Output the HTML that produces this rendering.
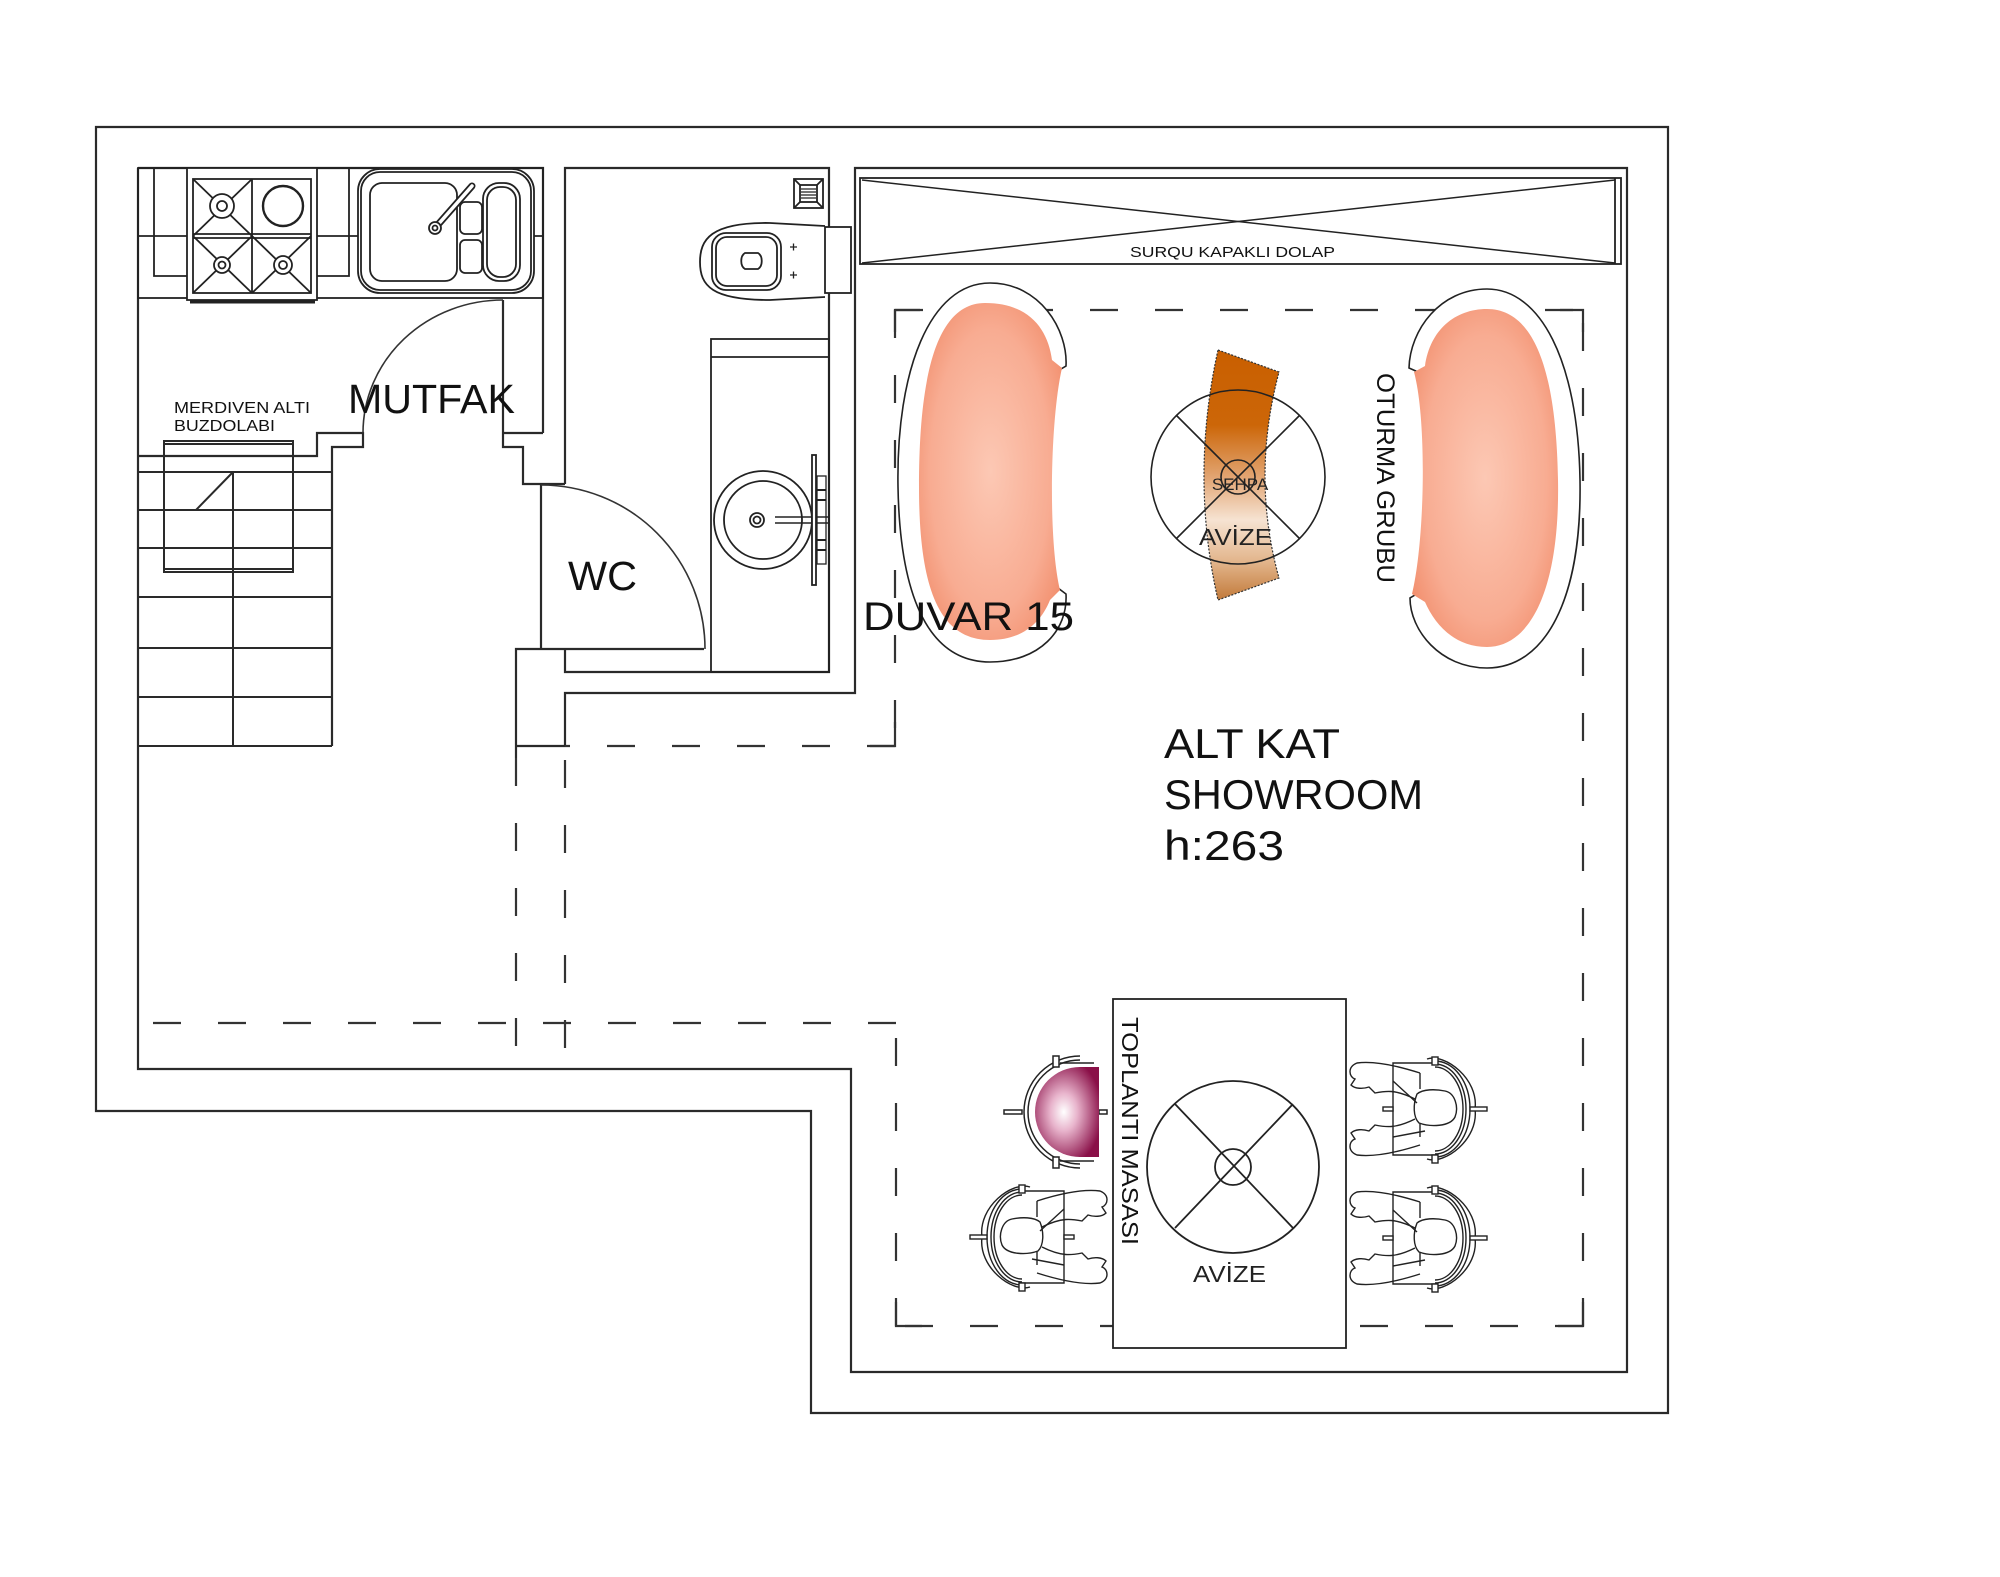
<!DOCTYPE html>
<html>
<head>
<meta charset="utf-8">
<style>
html,body{margin:0;padding:0;background:#fff;}
svg{display:block;}
</style>
</head>
<body>
<svg width="2000" height="1577" viewBox="0 0 2000 1577" xmlns="http://www.w3.org/2000/svg" font-family="'Liberation Sans', Arial, sans-serif">
<defs>
  <radialGradient id="pink" cx="50%" cy="50%" r="60%">
    <stop offset="0%" stop-color="#fcc8b4"/>
    <stop offset="70%" stop-color="#f8ac92"/>
    <stop offset="100%" stop-color="#f2906f"/>
  </radialGradient>
  <linearGradient id="sehpa" x1="0" y1="0" x2="0" y2="1">
    <stop offset="0%" stop-color="#c95f00"/>
    <stop offset="30%" stop-color="#cc6608"/>
    <stop offset="52%" stop-color="#e3a878"/>
    <stop offset="68%" stop-color="#f6e3d2"/>
    <stop offset="85%" stop-color="#e2b48a"/>
    <stop offset="100%" stop-color="#c27a3a"/>
  </linearGradient>
  <radialGradient id="purple" cx="0.45" cy="0.5" r="0.6">
    <stop offset="0%" stop-color="#ffffff"/>
    <stop offset="35%" stop-color="#e8b4cc"/>
    <stop offset="100%" stop-color="#8a1048"/>
  </radialGradient>
  <g id="person">
    <path d="M0,-48 A35,48 0 0 1 0,48" fill="none"/>
    <path d="M0,-45 A31,45 0 0 1 0,45" fill="none"/>
    <path d="M0,-42 A28,42 0 0 1 0,42" fill="none"/>
    <path d="M-8,-50 C10,-56 44,-30 40,0 C44,30 10,56 -8,50" fill="none"/>
    <path d="M0,-46 L-42,-46 L-42,46 L0,46" fill="none"/>
    <rect x="35" y="-2" width="17" height="4" fill="#fff"/>
    <rect x="-3" y="-52" width="6" height="8" fill="#fff"/>
    <rect x="-3" y="46" width="6" height="8" fill="#fff"/>
    <rect x="-52" y="-2" width="10" height="4" fill="#fff"/>
    <path d="M-18,-15 C-22,-5 -22,8 -16,14 C-5,18 15,18 20,8 C24,-2 20,-16 10,-18 C0,-20 -12,-20 -18,-15 Z" fill="none"/>
    <path d="M-15,-36 L-15,-20 M-15,14 L-15,28" fill="none"/>
    <path d="M-15,-36 C-40,-44 -62,-48 -78,-46 C-88,-42 -86,-32 -80,-30 L-84,-24 C-80,-20 -72,-20 -66,-22 L-60,-16 C-50,-18 -40,-20 -20,-10" fill="none"/>
    <path d="M-15,36 C-40,44 -62,48 -78,46 C-88,42 -86,32 -80,30 L-84,24 C-80,20 -72,20 -66,22 L-60,16 C-50,18 -40,20 -20,10" fill="none"/>
    <path d="M-42,-28 L-18,-6 M-42,28 L-10,22" fill="none"/>
  </g>
</defs>

<rect width="2000" height="1577" fill="#fff"/>

<!-- OUTER WALL -->
<g stroke="#2a2a2a" stroke-width="2.2" fill="none">
  <path d="M96,127 H1668 V1413 H811 V1111 H96 Z"/>
  <path d="M138,168 V1069 H851 V1372 H1627 V168 H855 V693 H565 V746"/>
  <path d="M138,168 H543 V433"/>
  <path d="M565,484 V168 H829 V672 H565 V649"/>
  <path d="M516,758 V649 H704"/>
  <path d="M541,484 V649"/>
  <path d="M503,300 V447 H523 V484 H565"/>
  <path d="M503,433 H543"/>
  <path d="M138,456 H317 V433 H363 V447 H332 V746"/>
  <path d="M516,746 H565"/>
</g>

<!-- STAIRS -->
<g stroke="#2a2a2a" stroke-width="2" fill="none">
  <path d="M138,472 H332 M138,510 H332 M138,548 H332 M138,597 H332 M138,648 H332 M138,697 H332 M138,746 H332"/>
  <path d="M233,472 V746"/>
  <path d="M196,510 L233,472"/>
  <rect x="164" y="441" width="129" height="131"/>
  <path d="M164,444 H293 M164,569 H293"/>
</g>

<!-- DASHED LINES -->
<g stroke="#333" stroke-width="2.2" fill="none" stroke-dasharray="28 37">
  <path d="M895,310 H1583"/>
  <path d="M895,310 V746"/>
  <path d="M1583,1326 V310"/>
  <path d="M1583,1326 H896"/>
  <path d="M896,1326 V1023"/>
  <path d="M896,1023 H138"/>
  <path d="M895,746 H565"/>
  <path d="M516,758 V1069"/>
  <path d="M565,760 V1069"/>
</g>
<g stroke="#333" stroke-width="2.2" fill="none">
  <path d="M895,332 V310 H920"/>
  <path d="M1560,310 H1583 V332"/>
  <path d="M1583,1302 V1326 H1558"/>
  <path d="M896,1302 V1326 H922"/>
  <path d="M870,746 H895 V722"/>
</g>

<!-- KITCHEN COUNTER -->
<g stroke="#222" stroke-width="1.8" fill="none">
  <rect x="138" y="168" width="405" height="130"/>
  <path d="M138,236 H543"/>
  <path d="M154,168 V276 H349 V168"/>
  <rect x="187" y="168" width="130" height="132" fill="#fff"/>
  <path d="M190,302 H315" stroke-width="3"/>
  <rect x="193" y="179" width="118" height="114"/>
  <path d="M252,179 V293 M193,234 H311 M193,238 H311"/>
  <path d="M193,179 L252,236 M252,179 L193,236"/>
  <path d="M193,236 L252,293 M252,236 L193,293"/>
  <path d="M252,236 L311,293 M311,236 L252,293"/>
  <circle cx="222" cy="206" r="12" fill="#fff"/>
  <circle cx="222" cy="206" r="5" fill="#fff"/>
  <circle cx="283" cy="206" r="20" fill="#fff" stroke-width="2.4"/>
  <circle cx="222" cy="265" r="8" fill="#fff"/>
  <circle cx="222" cy="265" r="3.5" fill="#fff"/>
  <circle cx="283" cy="265" r="9" fill="#fff"/>
  <circle cx="283" cy="265" r="4" fill="#fff"/>
  <rect x="358" y="169" width="176" height="124" rx="22" fill="#fff"/>
  <rect x="361" y="172" width="170" height="118" rx="19"/>
  <rect x="370" y="183" width="87" height="98" rx="12"/>
  <rect x="460" y="202" width="22" height="32" rx="5"/>
  <rect x="460" y="240" width="22" height="33" rx="5"/>
  <rect x="483" y="183" width="37" height="98" rx="16"/>
  <rect x="487" y="187" width="29" height="90" rx="13"/>
  <path d="M435,228 L472,186" stroke-width="7" stroke-linecap="round"/>
  <path d="M435,228 L472,186" stroke-width="3.5" stroke="#fff" stroke-linecap="round"/>
  <circle cx="435" cy="228" r="6" fill="#fff"/>
  <circle cx="435" cy="228" r="2.5"/>
</g>

<path d="M503,300 A140,133 0 0 0 363,433" stroke="#333" stroke-width="1.6" fill="none"/>

<!-- WC fixtures -->
<g stroke="#222" stroke-width="1.8" fill="none">
  <rect x="794" y="179" width="29" height="29"/>
  <rect x="800" y="185" width="17" height="17"/>
  <path d="M794,179 L800,185 M823,179 L817,185 M794,208 L800,202 M823,208 L817,202"/>
  <path d="M801,189 H816 M801,192 H816 M801,195 H816 M801,198 H816" stroke-width="1.2"/>
  <rect x="825" y="227" width="26" height="66" fill="#fff"/>
  <path d="M825,226 L770,223 C710,222 700,240 700,262 C700,286 712,300 770,300 L825,297"/>
  <rect x="712" y="233" width="69" height="57" rx="14"/>
  <rect x="716" y="237" width="61" height="49" rx="11"/>
  <path d="M745,253 L758,253 C763,256 763,266 758,269 L745,269 C740,266 740,256 745,253 Z"/>
  <path d="M790,247 H797 M793.5,243.5 V250.5 M790,275 H797 M793.5,271.5 V278.5" stroke-width="1.3"/>
  <rect x="711" y="339" width="118" height="333"/>
  <path d="M711,357 H829"/>
  <circle cx="763" cy="520" r="49" fill="#fff"/>
  <circle cx="763" cy="520" r="39"/>
  <circle cx="757" cy="520" r="7"/>
  <circle cx="757" cy="520" r="3.5"/>
  <path d="M775,517 H829 M775,523 H829" stroke-width="1.4"/>
  <rect x="812" y="455" width="4" height="130" fill="#fff"/>
  <rect x="817" y="476" width="9" height="88" stroke-width="1.3"/>
  <path d="M817,490 H826 M817,500 H826 M817,540 H826 M817,550 H826" stroke-width="2"/>
</g>
<path d="M541,485 A164,164 0 0 1 705,649" stroke="#333" stroke-width="1.6" fill="none"/>

<!-- DOLAP -->
<g stroke="#222" stroke-width="1.8" fill="none">
  <rect x="860" y="178" width="761" height="86"/>
  <path d="M1615,178 V264"/>
  <path d="M862,180 L1615,263 M862,263 L1615,180" stroke-width="1.5"/>
</g>
<rect x="1126" y="242" width="214" height="18" fill="#fff"/>
<text x="1130" y="257" font-size="15" textLength="205" lengthAdjust="spacingAndGlyphs" fill="#111">SURQU KAPAKLI DOLAP</text>

<!-- LEFT SOFA -->
<path d="M990,283 C1040,283 1068,330 1066,366 L1056,372 C1046,420 1046,540 1058,588 L1066,594 C1068,630 1040,662 990,662 C930,662 900,600 898,487 C896,370 930,283 990,283 Z" fill="#fff" stroke="#222" stroke-width="1.6"/>
<path d="M985,303 C1030,303 1048,330 1052,360 L1062,368 C1050,420 1048,540 1060,590 L1050,600 C1040,625 1020,640 990,640 C940,640 919,590 919,487 C919,380 935,303 985,303 Z" fill="url(#pink)"/>

<!-- RIGHT SOFA -->
<path d="M1487,289 C1540,289 1578,360 1580,480 C1582,600 1545,668 1487,668 C1440,668 1410,630 1410,598 L1420,592 C1428,540 1428,420 1418,372 L1409,368 C1410,330 1440,289 1487,289 Z" fill="#fff" stroke="#222" stroke-width="1.6"/>
<path d="M1487,309 C1530,309 1556,360 1558,480 C1560,590 1530,647 1487,647 C1455,647 1435,625 1425,602 L1412,594 C1425,540 1427,420 1414,372 L1425,366 C1430,330 1455,309 1487,309 Z" fill="url(#pink)"/>

<!-- SEHPA + AVIZE -->
<path d="M1218,350 L1279,372 Q1251,477 1279,578 L1218,600 Q1190,477 1218,350 Z" fill="url(#sehpa)" stroke="#333" stroke-width="1.2" stroke-dasharray="2 1.5"/>
<g stroke="#222" stroke-width="1.6" fill="none">
  <circle cx="1238" cy="477" r="87"/>
  <path d="M1176,415 L1300,539 M1300,415 L1176,539"/>
  <circle cx="1238" cy="477" r="17"/>
</g>
<text x="1240" y="490" font-size="17" text-anchor="middle" fill="#222">SEHPA</text>
<text x="1199" y="545" font-size="23" textLength="73" lengthAdjust="spacingAndGlyphs" fill="#222">AVİZE</text>

<text transform="translate(1377,373) rotate(90)" font-size="25" textLength="210" lengthAdjust="spacingAndGlyphs" fill="#111">OTURMA GRUBU</text>

<!-- MEETING TABLE -->
<g stroke="#222" stroke-width="1.8" fill="none">
  <rect x="1113" y="999" width="233" height="349" fill="#fff"/>
  <circle cx="1233" cy="1167" r="86"/>
  <path d="M1175,1104 L1293,1228 M1293,1104 L1175,1228"/>
  <circle cx="1233" cy="1167" r="18"/>
</g>
<text x="1193" y="1282" font-size="23" textLength="73" lengthAdjust="spacingAndGlyphs" fill="#222">AVİZE</text>
<text transform="translate(1122,1017) rotate(90)" font-size="23" textLength="228" lengthAdjust="spacingAndGlyphs" fill="#111">TOPLANTI MASASI</text>

<!-- PURPLE CHAIR -->
<g stroke="#222" stroke-width="1.5" fill="none">
  <path d="M1080,1060 A52,52 0 0 0 1080,1164"/>
  <path d="M1080,1056 A56,56 0 0 0 1080,1168"/>
  <path d="M1060,1063 H1094 M1060,1161 H1094"/>
  <rect x="1053" y="1056" width="6" height="11" fill="#fff"/>
  <rect x="1053" y="1157" width="6" height="11" fill="#fff"/>
  <rect x="1004" y="1110" width="18" height="4" fill="#fff"/>
  <rect x="1099" y="1110" width="8" height="4" fill="#fff"/>
</g>
<path d="M1099,1067 L1080,1067 A45,45 0 0 0 1080,1157 L1099,1157 Z" fill="url(#purple)"/>

<!-- PEOPLE -->
<g stroke="#222" stroke-width="1.4">
  <use href="#person" transform="translate(1435,1109)"/>
  <use href="#person" transform="translate(1435,1238)"/>
  <use href="#person" transform="translate(1022,1237) scale(-1,1)"/>
</g>

<!-- LABELS -->
<g fill="#111">
  <text x="348" y="413" font-size="41" textLength="167" lengthAdjust="spacingAndGlyphs">MUTFAK</text>
  <text x="174" y="413" font-size="16" textLength="136" lengthAdjust="spacingAndGlyphs">MERDIVEN ALTI</text>
  <text x="174" y="431" font-size="16" textLength="101" lengthAdjust="spacingAndGlyphs">BUZDOLABI</text>
  <text x="568" y="590" font-size="41" textLength="69" lengthAdjust="spacingAndGlyphs">WC</text>
  <text x="863" y="630" font-size="40" textLength="211" lengthAdjust="spacingAndGlyphs">DUVAR 15</text>
  <text x="1164" y="758" font-size="42" textLength="176" lengthAdjust="spacingAndGlyphs">ALT KAT</text>
  <text x="1164" y="809" font-size="42" textLength="259" lengthAdjust="spacingAndGlyphs">SHOWROOM</text>
  <text x="1164" y="860" font-size="42" textLength="120" lengthAdjust="spacingAndGlyphs">h:263</text>
</g>
</svg>
</body>
</html>
